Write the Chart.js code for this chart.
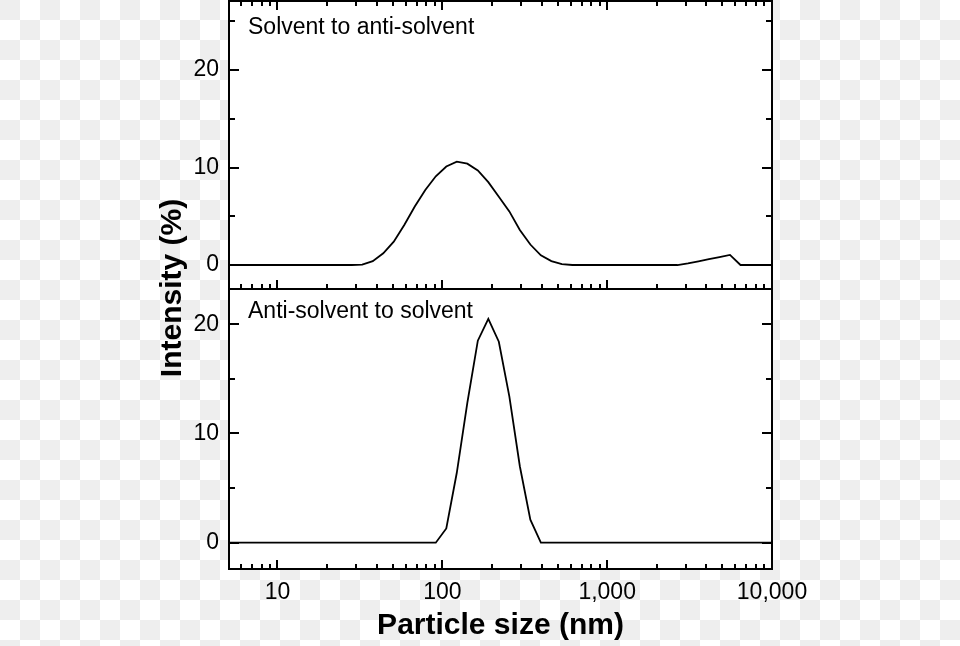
<!DOCTYPE html>
<html>
<head>
<meta charset="utf-8">
<title>Particle size distribution</title>
<script src="https://cdn.jsdelivr.net/npm/chart.js@4.4.0/dist/chart.umd.min.js"></script>
<style>
    html, body { margin: 0; padding: 0; }
    body {
        width: 960px;
        height: 646px;
        /* fundo quadriculado (transparência) como na imagem original */
        background: repeating-conic-gradient(#ffffff 0 25%, #eeeeee 0 50%) 0 0 / 40px 40px;
    }
    #wrap { position: relative; width: 960px; height: 646px; }
</style>
</head>
<body>
<div id="wrap"><canvas id="grafico" width="960" height="646"></canvas></div>
<script>
// Classes de tamanho (nm), espaçamento logarítmico
const tamanhos = [
    4.849, 5.615, 6.503, 7.531, 8.721, 10.1, 11.7, 13.54, 15.69, 18.17,
    21.04, 24.36, 28.21, 32.67, 37.84, 43.82, 50.75, 58.77, 68.06, 78.82,
    91.28, 105.7, 122.4, 141.8, 164.2, 190.1, 220.2, 255.0, 295.3, 342.0,
    396.1, 458.7, 531.2, 615.1, 712.4, 825.0, 955.4, 1106, 1281, 1484,
    1718, 1990, 2305, 2669, 3091, 3580, 4145, 4801, 5560, 6439,
    7456, 8635, 10000
];

// Painel superior: solvente -> anti-solvente (%)
const intensidadeTopo = [
    0, 0, 0, 0, 0, 0, 0, 0, 0, 0,
    0, 0, 0, 0.05, 0.4, 1.2, 2.4, 4.1, 6.0, 7.7,
    9.1, 10.1, 10.6, 10.4, 9.7, 8.5, 7.0, 5.5, 3.6, 2.1,
    1.0, 0.4, 0.1, 0, 0, 0, 0, 0, 0, 0,
    0, 0, 0, 0, 0.17, 0.38, 0.6, 0.82, 1.03, 0,
    0, 0, 0
];

// Painel inferior: anti-solvente -> solvente (%)
const intensidadeBase = [
    0, 0, 0, 0, 0, 0, 0, 0, 0, 0,
    0, 0, 0, 0, 0, 0, 0, 0, 0, 0,
    0, 1.3, 6.4, 12.8, 18.5, 20.5, 18.4, 13.4, 7.0, 2.1,
    0, 0, 0, 0, 0, 0, 0, 0, 0, 0,
    0, 0, 0, 0, 0, 0, 0, 0, 0, 0,
    0, 0, 0
];

const ticksX = [10, 100, 1000, 10000];
const rotulosX = ['10', '100', '1,000', '10,000'];
const ticksYMaiores = [0, 10, 20];
const ticksYMenores = [5, 15, 25];

const textoTopo = 'Solvent to anti-solvent';
const textoBase = 'Anti-solvent to solvent';
const tituloX = 'Particle size (nm)';
const tituloY = 'Intensity (%)';

const fonte = "'Liberation Sans', Arial, Helvetica, sans-serif";

// Plugin: moldura dos painéis, ticks internos, textos dos painéis e título Y
const moldura = {
    id: 'moldura',
    beforeDraw(chart) {
        const { ctx, chartArea: a } = chart;
        ctx.save();
        ctx.fillStyle = '#ffffff';
        ctx.fillRect(a.left, a.top, a.right - a.left, a.bottom - a.top);
        ctx.restore();
    },
    afterDraw(chart) {
        const { ctx, chartArea: a, scales } = chart;
        const x = scales.x;
        const topo = scales.yTopo;
        const base = scales.yBase;

        ctx.save();
        ctx.strokeStyle = '#000';
        ctx.lineWidth = 2;

        // molduras
        [topo, base].forEach(s => {
            ctx.strokeRect(a.left, s.top, a.right - a.left, s.bottom - s.top);
        });

        // ticks Y (esquerda e direita, para dentro)
        [topo, base].forEach(s => {
            const marcas = ticksYMaiores.map(v => [v, 10]).concat(ticksYMenores.map(v => [v, 6]));
            marcas.forEach(([v, len]) => {
                if (v < s.min || v > s.max) return;
                const py = Math.round(s.getPixelForValue(v));
                ctx.beginPath();
                ctx.moveTo(a.left, py); ctx.lineTo(a.left + len, py);
                ctx.moveTo(a.right, py); ctx.lineTo(a.right - len, py);
                ctx.stroke();
            });
        });

        // ticks X (log, maiores e menores)
        [1, 10, 100, 1000].forEach(d => {
            for (let k = 1; k <= 9; k++) {
                const v = k * d;
                if (v < x.min || v > x.max) continue;
                const px = Math.round(x.getPixelForValue(v));
                const len = k === 1 ? 9 : 5;
                ctx.beginPath();
                ctx.moveTo(px, topo.top); ctx.lineTo(px, topo.top + len);
                ctx.moveTo(px, topo.bottom); ctx.lineTo(px, topo.bottom - len);
                ctx.moveTo(px, base.bottom); ctx.lineTo(px, base.bottom - len);
                ctx.stroke();
            }
        });

        // textos dos painéis
        ctx.fillStyle = '#000';
        ctx.font = '23px ' + fonte;
        ctx.textAlign = 'left';
        ctx.textBaseline = 'middle';
        ctx.fillText(textoTopo, a.left + 19, topo.top + 27);
        ctx.fillText(textoBase, a.left + 19, base.top + 23);

        // título do eixo Y
        ctx.font = 'bold 30px ' + fonte;
        ctx.textAlign = 'center';
        ctx.translate(173, (a.top + a.bottom) / 2 + 3);
        ctx.rotate(-Math.PI / 2);
        ctx.fillText(tituloY, 0, 0);
        ctx.restore();
    }
};

function eixoY(min, max, peso) {
    return {
        type: 'linear',
        position: 'left',
        stack: 'paineis',
        stackWeight: peso,
        min: min,
        max: max,
        afterBuildTicks: s => { s.ticks = ticksYMaiores.map(v => ({ value: v })); },
        afterFit: s => {
            s.width = 229;
            s.paddingTop = 0;
            s.paddingBottom = 0;
        },
        grid: { display: false, drawTicks: false },
        border: { display: false },
        ticks: {
            color: '#000',
            padding: 10,
            font: { family: fonte, size: 23 }
        }
    };
}

const ctx = document.getElementById('grafico').getContext('2d');

const grafico = new Chart(ctx, {
    type: 'line',
    data: {
        datasets: [
            {
                label: textoTopo,
                data: tamanhos.map((t, i) => ({ x: t, y: intensidadeTopo[i] })),
                yAxisID: 'yTopo',
                borderColor: '#000',
                borderWidth: 1.8,
                pointRadius: 0,
                tension: 0,
                fill: false
            },
            {
                label: textoBase,
                data: tamanhos.map((t, i) => ({ x: t, y: intensidadeBase[i] })),
                yAxisID: 'yBase',
                borderColor: '#000',
                borderWidth: 1.8,
                pointRadius: 0,
                tension: 0,
                fill: false
            }
        ]
    },
    options: {
        responsive: false,
        animation: false,
        events: [],
        layout: { padding: { left: 0, right: 188, top: 1, bottom: 0 } },
        plugins: {
            legend: { display: false },
            tooltip: { enabled: false }
        },
        scales: {
            x: {
                type: 'logarithmic',
                position: 'bottom',
                min: 5.08,
                max: 10000,
                afterBuildTicks: s => { s.ticks = ticksX.map(v => ({ value: v })); },
                afterFit: s => { s.height = 77; },
                grid: { display: false, drawTicks: false },
                border: { display: false },
                ticks: {
                    color: '#000',
                    padding: 10,
                    maxRotation: 0,
                    autoSkip: false,
                    font: { family: fonte, size: 23 },
                    callback: v => {
                        const i = ticksX.indexOf(v);
                        return i >= 0 ? rotulosX[i] : '';
                    }
                },
                title: {
                    display: true,
                    text: tituloX,
                    color: '#000',
                    font: { family: fonte, size: 30, weight: 'bold' },
                    padding: { top: 0, bottom: 2 }
                }
            },
            // no empilhamento, o último eixo declarado fica em cima
            yBase: eixoY(-2.41, 23.23, 280),
            yTopo: eixoY(-2.46, 27.08, 288)
        }
    },
    plugins: [moldura]
});
</script>
</body>
</html>
